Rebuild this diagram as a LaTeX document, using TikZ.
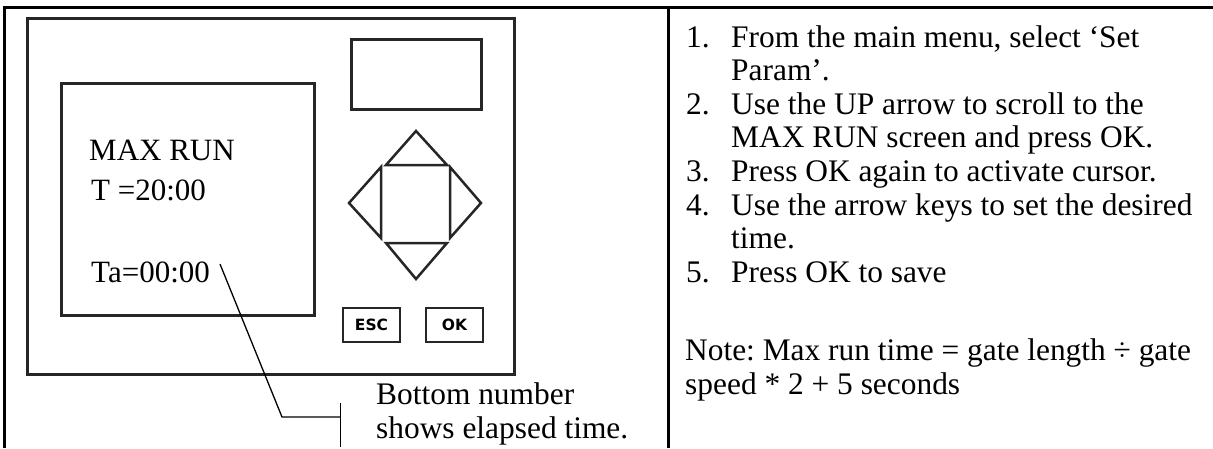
\documentclass[tikz,border=0pt]{standalone}
\usepackage{fontspec}
\setmainfont{Liberation Serif}
\newfontfamily\keyfont{DejaVu Sans}
\frenchspacing
\begin{document}
\begin{tikzpicture}[x=1pt,y=-1pt,
  txt/.style={anchor=base west, inner sep=0pt, font=\fontsize{31.4}{34}\selectfont},
  scr/.style={anchor=base west, inner sep=0pt, font=\fontsize{31}{34}\selectfont},
  frame/.style={line width=3pt},
  dev/.style={line width=3pt, draw=black!85},
  keybox/.style={draw=black!85, line width=2.8pt, minimum width=57pt, minimum height=34pt, inner sep=0pt, font=\keyfont\bfseries\fontsize{15.5}{15.5}\selectfont},
  tri/.style={line width=2.5pt, line join=miter, draw=black!85},
  callout/.style={line width=1.3pt}
]
\useasboundingbox (0,0) rectangle (1213,448);
% table
\draw[frame] (4,448) -- (4,7) -- (1213,7);
\draw[frame] (668,7) -- (668,448);
% device
\draw[dev] (27.5,18) rectangle (514,374);
\draw[dev] (61,83) rectangle (314,315);
\draw[dev] (351,39) rectangle (481,109);
% arrow keys
\draw[tri] (416,131) -- (447,165) -- (386,165) -- cycle;
\draw[tri] (349,203) -- (381,167) -- (381,238) -- cycle;
\draw[tri] (481,203) -- (450,167) -- (450,238) -- cycle;
\draw[tri] (416,279) -- (447,243) -- (386,243) -- cycle;
% keys
\node[keybox] (esc) at (371.5,325) {ESC};
\node[keybox] (ok) at (454.5,325) {OK};
% screen text
\node[scr] (t1) at (89,160) {MAX RUN};
\node[scr] (t2) at (91,200) {T =20:00};
\node[scr] (t3) at (91,282) {Ta=00:00};
% callout
\coordinate (c0) at (220,264);
\coordinate (c1) at (282,417);
\coordinate (c2) at (340.5,417);
\draw[callout] (c0) -- (c1) -- (c2);
\coordinate (b0) at (340.5,403);
\coordinate (b1) at (340.5,447);
\draw[line width=1.7pt] (b0) -- (b1);
\node[txt] (bn1) at (376,404) {Bottom number};
\node[txt] (bn2) at (376,438) {shows elapsed time.};
% right list
\node[txt] (n1) at (686,47) {1.};
\node[txt] (s1) at (731,47) {From the main menu, select ‘Set};
\node[txt] (s1b) at (731,80.6) {Param’.};
\node[txt] (n2) at (686,114.2) {2.};
\node[txt] (s2) at (731,114.2) {Use the UP arrow to scroll to the};
\node[txt] (s2b) at (731,147.8) {MAX RUN screen and press OK.};
\node[txt] (n3) at (686,181.4) {3.};
\node[txt] (s3) at (731,181.4) {Press OK again to activate cursor.};
\node[txt] (n4) at (686,215) {4.};
\node[txt] (s4) at (731,215) {Use the arrow keys to set the desired};
\node[txt] (s4b) at (731,248.6) {time.};
\node[txt] (n5) at (686,282.2) {5.};
\node[txt] (s5) at (731,282.2) {Press OK to save};
\node[txt] (note1) at (685,360) {Note: Max run time = gate length ÷ gate};
\node[txt] (note2) at (685,394) {speed * 2 + 5 seconds};
\end{tikzpicture}
\end{document}
